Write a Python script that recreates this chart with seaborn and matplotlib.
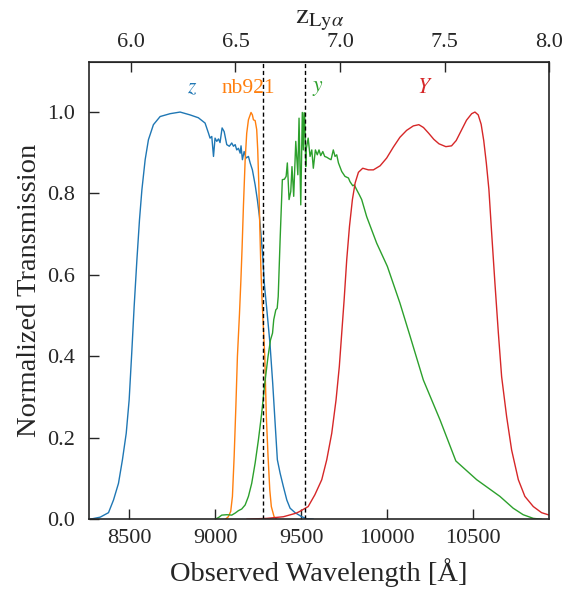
import seaborn as sns
import pandas as pd
import matplotlib.pyplot as plt

# filter curves (wavelength in Angstrom, normalized transmission)
z_wave = [8274, 8332, 8380, 8409, 8438, 8461, 8483, 8500, 8515, 8529, 8545, 8560, 8574, 8593,
          8612, 8641, 8680, 8738, 8796, 8854, 8902, 8941, 8961, 8970, 8980, 8990, 8999, 9009,
          9019, 9028, 9040, 9052, 9067, 9082, 9096, 9106, 9116, 9125, 9135, 9145, 9150, 9158,
          9168, 9179, 9193, 9203, 9216, 9232, 9245, 9257, 9267, 9276, 9286, 9300, 9318, 9334,
          9348, 9361, 9377, 9396, 9416, 9435, 9464, 9503, 9532, 9570]
z_trans = [0.0, 0.005, 0.016, 0.047, 0.088, 0.146, 0.211, 0.293, 0.408, 0.522, 0.637, 0.735,
           0.809, 0.883, 0.932, 0.969, 0.989, 0.996, 1.0, 0.993, 0.986, 0.973, 0.948, 0.936,
           0.940, 0.891, 0.936, 0.928, 0.934, 0.925, 0.961, 0.952, 0.920, 0.916, 0.924, 0.916,
           0.920, 0.907, 0.911, 0.899, 0.917, 0.883, 0.903, 0.887, 0.891, 0.875, 0.858, 0.821,
           0.784, 0.743, 0.694, 0.645, 0.575, 0.514, 0.432, 0.334, 0.236, 0.146, 0.113, 0.080,
           0.047, 0.027, 0.016, 0.006, 0.001, 0.0]

nb_wave = [9060, 9076, 9090, 9100, 9110, 9120, 9129, 9141, 9149, 9156, 9164, 9174, 9183, 9193,
           9203, 9208, 9216, 9222, 9232, 9241, 9247, 9253, 9259, 9265, 9272, 9280, 9288, 9297,
           9307, 9317, 9326, 9342, 9358]
nb_trans = [0.0, 0.006, 0.019, 0.056, 0.154, 0.277, 0.400, 0.505, 0.585, 0.665, 0.770, 0.883,
            0.948, 0.981, 0.993, 0.999, 0.993, 0.981, 0.979, 0.957, 0.907, 0.826, 0.719, 0.621,
            0.539, 0.470, 0.400, 0.252, 0.154, 0.072, 0.031, 0.006, 0.0]

y_wave = [8999, 9019, 9038, 9067, 9096, 9116, 9135, 9154, 9174, 9193, 9212, 9232, 9251, 9270,
          9288, 9307, 9321, 9333, 9340, 9352, 9360, 9366, 9377, 9390, 9402, 9412, 9419, 9429,
          9439, 9446, 9456, 9468, 9480, 9487, 9497, 9506, 9512, 9516, 9520, 9526, 9528, 9540,
          9551, 9561, 9570, 9582, 9593, 9603, 9613, 9625, 9636, 9648, 9663, 9673, 9686, 9696,
          9706, 9716, 9735, 9754, 9774, 9783, 9799, 9808, 9822, 9837, 9851, 9880, 9938, 10000,
          10073, 10131, 10209, 10306, 10398, 10519, 10654, 10731, 10789, 10848, 10896]
y_trans = [0.0, 0.004, 0.010, 0.011, 0.010, 0.015, 0.021, 0.025, 0.035, 0.056, 0.088, 0.138,
           0.195, 0.260, 0.334, 0.400, 0.440, 0.457, 0.490, 0.514, 0.518, 0.547, 0.686, 0.834,
           0.835, 0.842, 0.875, 0.785, 0.805, 0.866, 0.793, 0.928, 0.846, 0.985, 0.772, 0.999,
           0.907, 0.998, 0.998, 0.866, 0.907, 0.936, 0.891, 0.907, 0.862, 0.907, 0.895, 0.907,
           0.893, 0.903, 0.891, 0.889, 0.885, 0.883, 0.907, 0.891, 0.895, 0.875, 0.854, 0.842,
           0.838, 0.829, 0.819, 0.821, 0.809, 0.797, 0.785, 0.743, 0.678, 0.621, 0.531, 0.451,
           0.342, 0.244, 0.143, 0.097, 0.056, 0.027, 0.011, 0.002, 0.0]

Y_wave = [9183, 9300, 9396, 9472, 9491, 9540, 9579, 9619, 9648, 9677, 9702, 9721, 9735, 9749,
          9764, 9780, 9797, 9813, 9832, 9857, 9890, 9919, 9958, 9996, 10035, 10073, 10112, 10151,
          10183, 10210, 10240, 10270, 10300, 10340, 10373, 10400, 10430, 10460, 10490, 10509,
          10528, 10545, 10560, 10575, 10590, 10606, 10625, 10645, 10664, 10693, 10722, 10761,
          10799, 10848, 10896, 10941]
Y_trans = [0.0, 0.002, 0.006, 0.015, 0.019, 0.031, 0.060, 0.097, 0.146, 0.211, 0.293, 0.375,
           0.457, 0.539, 0.637, 0.719, 0.785, 0.826, 0.852, 0.862, 0.858, 0.858, 0.868, 0.887,
           0.914, 0.938, 0.955, 0.966, 0.969, 0.962, 0.948, 0.933, 0.922, 0.915, 0.917, 0.930,
           0.955, 0.980, 0.996, 1.0, 0.993, 0.970, 0.930, 0.875, 0.810, 0.703, 0.580, 0.457,
           0.350, 0.252, 0.170, 0.097, 0.056, 0.031, 0.016, 0.010]

band_names = ['$z$', 'nb921', '$y$', '$Y$']
label_wave = [8866, 9190, 9597, 10219]
line_wave = [9276, 9519]

lya = 1215.67
z_lim = [5.8, 8.0]

sns.set_style("ticks")
plt.rcParams['font.family'] = ['Liberation Serif', 'DejaVu Serif']
plt.rcParams['mathtext.fontset'] = 'stix'

fig, ax = plt.subplots(figsize=(5.74, 5.92), dpi=100)
fig.subplots_adjust(left=0.155, right=0.957, top=0.896, bottom=0.123)

colors = sns.color_palette("tab10", 4)
curves = [(z_wave, z_trans), (nb_wave, nb_trans), (y_wave, y_trans), (Y_wave, Y_trans)]
for (w, t), c, name, lx in zip(curves, colors, band_names, label_wave):
    df = pd.DataFrame({'wave': w, 'trans': t})
    sns.lineplot(data=df, x='wave', y='trans', color=c, lw=1.0, sort=False,
                 estimator=None, ax=ax)
    ax.text(lx, 1.057, name, color=c, fontsize=15.5, ha='center', va='center')

for lw_ in line_wave:
    ax.axvline(lw_, ls=(0, (3, 2)), color='k', lw=1.0)

ax.set_xlim(lya * (1 + z_lim[0]), lya * (1 + z_lim[1]))
ax.set_ylim(0, 1.124)
ax.set_xticks([8500, 9000, 9500, 10000, 10500])
ax.set_yticks([0.0, 0.2, 0.4, 0.6, 0.8, 1.0])
ax.yaxis.set_major_formatter(plt.FormatStrFormatter('%.1f'))
ax.tick_params(direction='in', length=7, width=1, labelsize=16)
ax.tick_params(axis='x', pad=7)
ax.tick_params(axis='y', pad=10)
ax.set_xlabel('Observed Wavelength [Å]', fontsize=20.5, labelpad=7)
ax.set_ylabel('Normalized Transmission', fontsize=20.5, labelpad=4)
for s in ax.spines.values():
    s.set_linewidth(1.2)

top = ax.secondary_xaxis('top', functions=(lambda w: w / lya - 1, lambda z: lya * (1 + z)))
top.set_xticks([6.0, 6.5, 7.0, 7.5, 8.0])
top.xaxis.set_major_formatter(plt.FormatStrFormatter('%.1f'))
top.tick_params(direction='in', length=7, width=1, labelsize=16, pad=7)
top.set_xlabel(r'$\mathrm{z}_{\mathrm{Ly}\alpha}$', fontsize=21, labelpad=7)

plt.savefig('out.png', dpi=100)
